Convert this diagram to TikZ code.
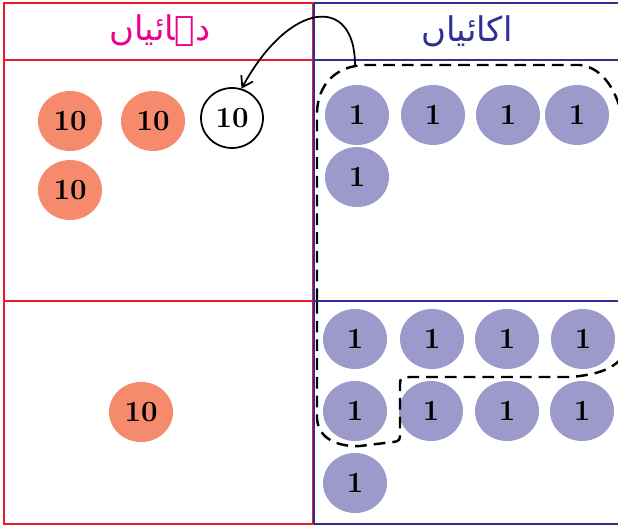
\documentclass[tikz,border=0pt]{standalone}
\usepackage{fontspec}
\newfontfamily\urdufont[Script=Arabic]{DejaVu Sans}
\TeXXeTstate=1
\usetikzlibrary{arrows.meta,shapes.geometric}
\definecolor{tenred}{HTML}{ED1C24}
\definecolor{oneblue}{HTML}{2E3192}
\definecolor{tenfill}{HTML}{F58A6C}
\definecolor{onefill}{HTML}{9C99CB}
\definecolor{headpink}{HTML}{EC008C}

\begin{document}
\begin{tikzpicture}[x=0.03cm,y=-0.03cm,
    ball/.style={ellipse,inner sep=0pt,minimum width=1.92cm,minimum height=1.8cm,font=\bfseries\fontsize{25}{25}\selectfont},
    tenball/.style={ball,fill=tenfill},
    oneball/.style={ball,fill=onefill},
    emptyten/.style={ball,draw=black,line width=1.5pt,minimum width=1.86cm},
    dashline/.style={line width=2.1pt,dash pattern=on 10pt off 6pt},
    header/.style={font=\urdufont\fontsize{29}{32}\selectfont}
]
\useasboundingbox (0,0) rectangle (618,529);

% Tens column
\draw[tenred,line width=2.4pt] (4,3) rectangle (313,524);
\draw[tenred,line width=2.4pt] (4,60) -- (313,60);
\draw[tenred,line width=2.4pt] (4,301) -- (313,301);

% Ones column
\draw[oneblue,line width=2.4pt] (314,3) -- (620,3);
\draw[oneblue,line width=2.4pt] (314,60) -- (620,60);
\draw[oneblue,line width=2.4pt] (314,301) -- (620,301);
\draw[oneblue,line width=2.4pt] (314,524) -- (620,524);
\draw[oneblue,line width=2.4pt] (314,3) -- (314,524);

% Headers
\node[header,text=headpink] (tenhead) at (160,31) {\beginR دہائیاں\endR};
\node[header,text=oneblue] (onehead) at (467,31) {\beginR اکائیاں\endR};

% Tens, top
\node[tenball] (ta) at (70,121) {10};
\node[tenball] (tb) at (153,121) {10};
\node[tenball] (tc) at (70,190) {10};
\node[emptyten] (newten) at (232,118) {10};

% Ones, top
\foreach \x [count=\i] in {357,433,508,577}
    \node[oneball] (oa\i) at (\x,115) {1};
\node[oneball] (oa5) at (357,177) {1};

% Tens, bottom
\node[tenball] (td) at (141,412) {10};

% Ones, bottom
\foreach \x [count=\i] in {355,432,507,583}
    \node[oneball] (ob\i) at (\x,339) {1};
\foreach \x [count=\i from 5] in {355,431,507,582}
    \node[oneball] (ob\i) at (\x,411) {1};
\node[oneball] (ob9) at (355,483) {1};

% Groups of ten
\draw[dashline] (317,300) -- (317,112) .. controls (318,85) and (335,66) .. (365,65)
    -- (580,65) .. controls (598,67) and (612,82) .. (620,108);
\draw[dashline] (317,302) -- (317,418) .. controls (318,440) and (340,447) .. (360,446)
    -- (393,442) .. controls (400,441) and (400,440) .. (400,432) -- (400,384)
    .. controls (400,378) and (402,377) .. (410,377) -- (570,377)
    .. controls (595,375) and (610,370) .. (620,360);

% Regrouping arrow
\coordinate (pickup) at (355,65);
\draw[line width=1.5pt,-{Straight Barb[length=3mm,width=4mm]}] (pickup) .. controls (355,-5) and (290,0) .. (newten.72);

\end{tikzpicture}
\end{document}
